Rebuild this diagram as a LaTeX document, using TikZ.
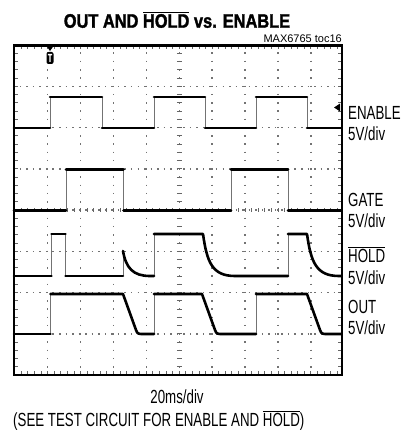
\documentclass[tikz,border=0pt]{standalone}
\usepackage{fontspec}
\setmainfont{Liberation Sans}
\newfontfamily\scopefont{Liberation Sans}[FakeStretch=0.7]
\newfontfamily\titlefont{Liberation Sans}[FakeStretch=0.84, BoldFeatures={FakeBold=1.6}]
\def\divx{32.9}
\def\divy{41.25}

\begin{document}
\begin{tikzpicture}[x=1pt,y=-1pt]
    \tikzstyle{frame}=[line width=2.8pt]
    \tikzstyle{gridh}=[line width=1.5pt, black!55, dash pattern=on 1.5pt off 5.04pt, dash phase=0.75pt]
    \tikzstyle{gridv}=[line width=1.5pt, black!55, dash pattern=on 1.5pt off 6.75pt, dash phase=0.75pt]
    \tikzstyle{tickmark}=[line width=1pt, black!60]
    \tikzstyle{trace}=[line width=2.6pt, line join=round, line cap=round]
    \tikzstyle{slew}=[line width=0.9pt, black!55]
    \tikzstyle{chanlabel}=[font=\scopefont\fontsize{19}{22}\selectfont, inner sep=0pt, anchor=base west]

    \useasboundingbox (0,0) rectangle (402,436);

    %%% GRID
    \foreach \i in {1,...,9}
        \draw[gridv] ({14.8+\i*\divx},45) -- ({14.8+\i*\divx},375);
    \foreach \j in {1,...,7}
        \draw[gridh] (14,{45+\j*\divy}) -- (342,{45+\j*\divy});
    \foreach \k in {1,...,49} {
        \draw[tickmark] ({14.8+\k*6.58},45.5) -- ++(0,4);
        \draw[tickmark] ({14.8+\k*6.58},375) -- ++(0,-4);
        \draw[tickmark] ({14.8+\k*6.58},208) -- ++(0,4);
    }
    \foreach \k in {1,...,39} {
        \draw[tickmark] (14,{45+\k*8.25}) -- ++(4,0);
        \draw[tickmark] (342,{45+\k*8.25}) -- ++(-4,0);
        \draw[tickmark] (176.8,{45+\k*8.25}) -- ++(5,0);
    }
    \draw[frame] (14,45.5) rectangle (342,375);

    %%% MARKERS
    \fill (46.5,46) -- (53.5,46) -- (50,51) -- cycle;
    \fill[rounded corners=2pt] (46.5,52) rectangle (53.5,64);
    \fill[white] (47.8,54) rectangle (52.2,55.3) (49.4,55.3) rectangle (50.6,62);
    \fill (334,107.5) -- (340,103.5) -- (340,111.5) -- cycle;

    %%% ENABLE
    \foreach \xr/\xf in {50/102,154/205,256/307} {
        \draw[slew] (\xr,128) -- (\xr,97) (\xf,97) -- (\xf,128);
        \draw[trace] (\xr,97) -- (\xf,97);
    }
    \draw[trace] (14,128) -- (50,128) (102,128) -- (154,128) (205,128) -- (256,128) (307,128) -- (341,128);

    %%% GATE
    \foreach \xr/\xf in {66/123.5,231/288} {
        \draw[slew] (\xr,210.5) -- (\xr,169.5) (\xf,169.5) -- (\xf,210.5);
        \draw[trace] (\xr,169.5) -- (\xf,169.5);
    }
    \draw[trace] (14,210.5) -- (66,210.5) (123.5,210.5) -- (231,210.5) (288,210.5) -- (341,210.5);

    %%% HOLD
    \draw[slew] (51.5,276) -- (51.5,234) (65.5,234) -- (65.5,276) (123,276) -- (123,251)
                (154,276) -- (154,234) (288,276) -- (288,234);
    \draw[trace] (14,276) -- (51.5,276) (51.5,234) -- (65.5,234) (65.5,276) -- (123,276);
    \draw[trace] (123,251) .. controls (126,268) and (133,276) .. (150,276) -- (154,276);
    \draw[trace] (154,234) -- (203,234) .. controls (207,262) and (212,276) .. (235,276) -- (288,276);
    \draw[trace] (288,234) -- (307,234) .. controls (311,262) and (316,276) .. (339,276) -- (341,276);

    %%% OUT
    \draw[slew] (50.5,334) -- (50.5,294) (154,334) -- (154,294) (256,334) -- (256,294);
    \draw[trace] (14,334) -- (50.5,334);
    \draw[trace] (50.5,294) -- (123,294) -- (136,330) .. controls (137.5,333.5) .. (141,334) -- (154,334);
    \draw[trace] (154,294) -- (202,294) -- (215,330) .. controls (216.5,333.5) .. (220,334) -- (256,334);
    \draw[trace] (256,294) -- (307,294) -- (320,330) .. controls (321.5,333.5) .. (325,334) -- (341,334);

    %%% ANNOTATE
    \node[font=\titlefont\bfseries\fontsize{19.5}{22}\selectfont, inner sep=0pt] (title) at (177,20) {OUT AND $\overline{\hbox{HOLD}}$ vs. ENABLE};
    \node[font=\fontsize{11}{13}\selectfont, inner sep=0pt, anchor=base east] (toc) at (342,43) {MAX6765 toc16};
    \node[chanlabel] (enable) at (348,119) {ENABLE};
    \node[chanlabel] (enablediv) at (348,140) {5V/div};
    \node[chanlabel] (gate) at (348,206) {GATE};
    \node[chanlabel] (gatediv) at (348,227) {5V/div};
    \node[chanlabel] (hold) at (348,262) {$\overline{\hbox{HOLD}}$};
    \node[chanlabel] (holddiv) at (348,284) {5V/div};
    \node[chanlabel] (out) at (348,313) {OUT};
    \node[chanlabel] (outdiv) at (348,334) {5V/div};
    \node[chanlabel, anchor=base] (timediv) at (177,403) {20ms/div};
    \node[chanlabel] (note) at (13,426) {(SEE TEST CIRCUIT FOR ENABLE AND $\overline{\hbox{HOLD}}$)};
\end{tikzpicture}
\end{document}
